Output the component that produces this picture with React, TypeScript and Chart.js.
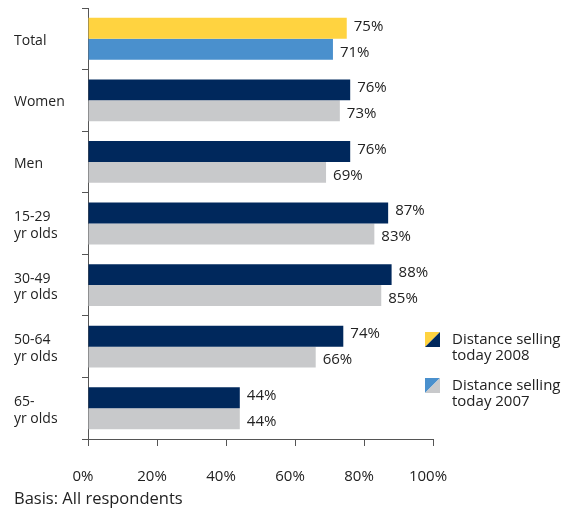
import React, { useEffect, useRef } from "react";
import { Chart, registerables } from "chart.js";

Chart.register(...registerables);

const categories: (string | string[])[] = [
  "Total",
  "Women",
  "Men",
  ["15-29", "yr olds"],
  ["30-49", "yr olds"],
  ["50-64", "yr olds"],
  ["65-", "yr olds"],
];
const values2008 = [75, 76, 76, 87, 88, 74, 44];
const values2007 = [71, 73, 69, 83, 85, 66, 44];
const seriesLabels = [
  ["Distance selling", "today 2008"],
  ["Distance selling", "today 2007"],
];
const xTicks = [0, 20, 40, 60, 80, 100];
const footnote = "Basis: All respondents";

const YELLOW = "#FFD340";
const LIGHTBLUE = "#4A90CD";
const NAVY = "#00285C";
const GRAY = "#C8C9CB";
const TEXT = "#222222";
const AXIS = "#555555";
const FONT = "'Open Sans', 'Noto Sans', sans-serif";

const colors2008 = categories.map((_, i) => (i === 0 ? YELLOW : NAVY));
const colors2007 = categories.map((_, i) => (i === 0 ? LIGHTBLUE : GRAY));

const labelPlugin = {
  id: "valueLabels",
  afterDatasetsDraw(chart: any) {
    const ctx = chart.ctx;
    ctx.save();
    ctx.font = `15px ${FONT}`;
    ctx.fillStyle = TEXT;
    ctx.textAlign = "left";
    ctx.textBaseline = "middle";
    chart.data.datasets.forEach((ds: any, di: number) => {
      const meta = chart.getDatasetMeta(di);
      const dy = di === 0 ? -2 : 3;
      meta.data.forEach((bar: any, i: number) => {
        ctx.fillText(ds.data[i] + "%", bar.x + 7, bar.y + dy);
      });
    });
    ctx.restore();
  },
};

const legendPlugin = {
  id: "customLegend",
  afterDraw(chart: any) {
    const ctx = chart.ctx;
    const area = chart.chartArea;
    ctx.save();
    const x0 = area.right - 8;
    const y0 = area.bottom - 107;
    const pairs = [
      [YELLOW, NAVY],
      [LIGHTBLUE, GRAY],
    ];
    ctx.font = `15px ${FONT}`;
    ctx.textBaseline = "middle";
    seriesLabels.forEach((lines, k) => {
      const y = y0 + k * 46;
      const s = 15;
      ctx.fillStyle = pairs[k][0];
      ctx.beginPath();
      ctx.moveTo(x0, y);
      ctx.lineTo(x0 + s, y);
      ctx.lineTo(x0, y + s);
      ctx.closePath();
      ctx.fill();
      ctx.fillStyle = pairs[k][1];
      ctx.beginPath();
      ctx.moveTo(x0 + s, y);
      ctx.lineTo(x0 + s, y + s);
      ctx.lineTo(x0, y + s);
      ctx.closePath();
      ctx.fill();
      ctx.fillStyle = TEXT;
      lines.forEach((ln, j) => {
        ctx.fillText(ln, x0 + 27, y + 8 + j * 16);
      });
    });
    ctx.font = `16.5px ${FONT}`;
    ctx.textBaseline = "middle";
    ctx.fillText(footnote, 14, chart.height - 10);
    ctx.restore();
  },
};

export default function App() {
  const ref = useRef<HTMLCanvasElement>(null);
  useEffect(() => {
    if (!ref.current) return;
    const chart = new Chart(ref.current, {
      type: "bar",
      data: {
        labels: categories as any,
        datasets: [
          {
            label: seriesLabels[0].join(" "),
            data: values2008,
            backgroundColor: colors2008,
            categoryPercentage: 0.68,
            barPercentage: 1,
          },
          {
            label: seriesLabels[1].join(" "),
            data: values2007,
            backgroundColor: colors2007,
            categoryPercentage: 0.68,
            barPercentage: 1,
          },
        ],
      },
      options: {
        indexAxis: "y",
        animation: false,
        responsive: false,
        maintainAspectRatio: false,
        layout: { padding: { left: 14, right: 141, top: 8, bottom: 0 } },
        plugins: { legend: { display: false }, tooltip: { enabled: false } },
        scales: {
          x: {
            min: 0,
            max: 100,
            afterBuildTicks: (scale: any) => {
              scale.ticks = xTicks.map((v) => ({ value: v }));
            },
            afterFit: (scale: any) => {
              scale.height = 70;
              scale.paddingLeft = 0;
              scale.paddingRight = 0;
            },
            border: { display: true, color: AXIS, width: 1 },
            grid: {
              drawOnChartArea: false,
              drawTicks: true,
              tickLength: 7,
              color: AXIS,
            },
            ticks: {
              padding: 22,
              labelOffset: -5,
              color: TEXT,
              font: { family: FONT, size: 15 },
              callback: (v: any) => v + "%",
            },
          },
          y: {
            afterFit: (scale: any) => {
              scale.width = 74;
              scale.paddingTop = 0;
              scale.paddingBottom = 0;
            },
            border: { display: true, color: AXIS, width: 1 },
            grid: {
              drawOnChartArea: false,
              drawTicks: true,
              tickLength: 6,
              color: AXIS,
              offset: true,
            },
            ticks: {
              crossAlign: "far",
              labelOffset: 2,
              color: TEXT,
              font: { family: FONT, size: 14 },
            },
          },
        },
      },
      plugins: [labelPlugin, legendPlugin],
    });
    return () => chart.destroy();
  }, []);
  return (
    <div style={{ position: "fixed", left: 0, top: 0, width: 574, height: 509, background: "#fff" }}>
      <canvas ref={ref} width={574} height={509} style={{ display: "block" }} />
    </div>
  );
}
